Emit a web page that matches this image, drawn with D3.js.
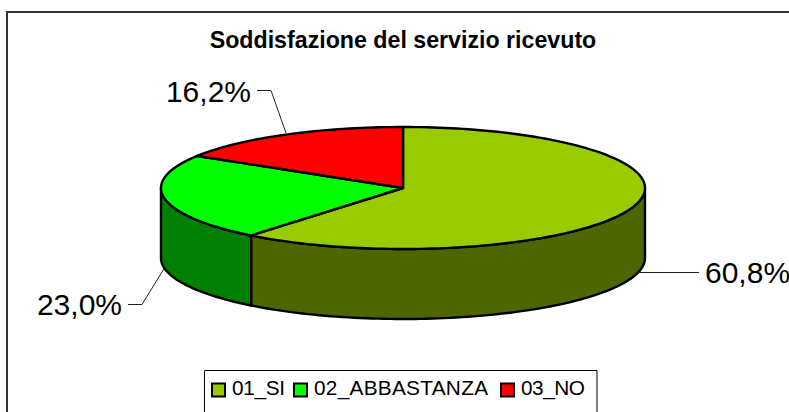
<!DOCTYPE html>
<html>
<head>
<meta charset="utf-8">
<script src="https://cdn.jsdelivr.net/npm/d3@7"></script>
<style>
html, body { margin: 0; padding: 0; background: #fff; overflow: hidden; }
svg { display: block; font-family: "Liberation Sans", Arial, sans-serif; }
</style>
</head>
<body>
<svg id="chart" width="789" height="412"></svg>
<script>
var categories = ["01_SI", "02_ABBASTANZA", "03_NO"];
var values = [60.8, 23.0, 16.2];
var labels = ["60,8%", "23,0%", "16,2%"];
var topColors = ["#99cc00", "#00ff00", "#ff0000"];
var sideColors = ["#4d6600", "#008000", "#800000"];

var svg = d3.select("#chart");

var cx = 403, cy = 188, rx = 242, ry = 61, depth = 70;

// frame
svg.append("path")
    .attr("d", "M7,412V12H789")
    .attr("fill", "none")
    .attr("stroke", "#333")
    .attr("stroke-width", 2);

svg.append("text")
    .attr("x", 403)
    .attr("y", 48)
    .attr("text-anchor", "middle")
    .attr("font-size", 23.2)
    .attr("font-weight", "bold")
    .text("Soddisfazione del servizio ricevuto");

var pie = d3.pie().sort(null)(values);

// tilted pie: unit circle squashed through two scales
var px = d3.scaleLinear().domain([-1, 1]).range([cx - rx, cx + rx]),
    py = d3.scaleLinear().domain([-1, 1]).range([cy - ry, cy + ry]);

function pt(a, dy) {
  return [px(Math.sin(a)), py(-Math.cos(a)) + (dy || 0)];
}

function rim(a0, a1, dy) {
  var n = Math.max(2, Math.ceil((a1 - a0) * 40)), out = [];
  for (var i = 0; i <= n; i++) out.push(pt(a0 + (a1 - a0) * i / n, dy));
  return out;
}

var line = d3.line();
var g = svg.append("g");

// walls, only the front half of the cylinder shows
pie.forEach(function(d) {
  var a0 = Math.max(d.startAngle, Math.PI / 2),
      a1 = Math.min(d.endAngle, Math.PI * 1.5);
  if (a1 <= a0) return;
  var pts = rim(a0, a1, 0).concat(rim(a0, a1, depth).reverse());
  g.append("path")
      .attr("d", line(pts) + "Z")
      .attr("fill", sideColors[d.index])
      .attr("stroke", "#000")
      .attr("stroke-width", 2.4)
      .attr("stroke-linejoin", "round");
});

// top faces
pie.forEach(function(d) {
  var pts = [[cx, cy]].concat(rim(d.startAngle, d.endAngle, 0));
  g.append("path")
      .attr("d", line(pts) + "Z")
      .attr("fill", topColors[d.index])
      .attr("stroke", "#000")
      .attr("stroke-width", 2.4)
      .attr("stroke-linejoin", "round");
});

// data labels with leader lines
var leaders = [
  {x: 705, y: 283, anchor: "start", line: "M636,272.5H699"},
  {x: 122, y: 315, anchor: "end", line: "M165,267L142,304.5H128"},
  {x: 251, y: 102, anchor: "end", line: "M286,133L271,90.5H257"}
];
leaders.forEach(function(l, i) {
  svg.append("path")
      .attr("d", l.line)
      .attr("fill", "none")
      .attr("stroke", "#222")
      .attr("stroke-width", 1);
  svg.append("text")
      .attr("x", l.x)
      .attr("y", l.y)
      .attr("text-anchor", l.anchor)
      .attr("font-size", 30)
      .text(labels[i]);
});

// legend
var legend = svg.append("g");
legend.append("path")
    .attr("d", "M204.5,412V370.5H597V412")
    .attr("fill", "#fff")
    .attr("stroke", "#000")
    .attr("stroke-width", 1);

var itemX = [212, 294, 501];
var textX = [232, 314, 521];
var textW = [53, 174, 64];
categories.forEach(function(c, i) {
  legend.append("rect")
      .attr("x", itemX[i]).attr("y", 383.5)
      .attr("width", 13).attr("height", 13)
      .attr("fill", topColors[i])
      .attr("stroke", "#000")
      .attr("stroke-width", 2);
  legend.append("text")
      .attr("x", textX[i])
      .attr("y", 395)
      .attr("font-size", 20.8)
      .attr("textLength", textW[i])
      .text(c);
});
</script>
</body>
</html>
